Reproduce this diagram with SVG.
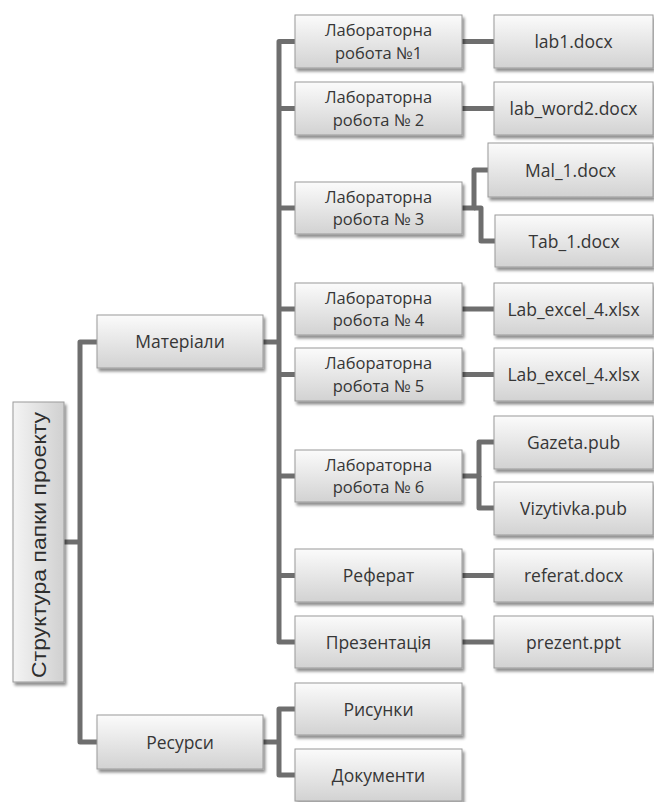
<svg xmlns="http://www.w3.org/2000/svg" width="654" height="802" viewBox="0 0 654 802">
<defs>
<linearGradient id="g" x1="0" y1="0" x2="0" y2="1">
<stop offset="0" stop-color="#fbfbfb"/>
<stop offset="1" stop-color="#d2d2d2"/>
</linearGradient>
<linearGradient id="gr" x1="0" y1="0" x2="1" y2="0">
<stop offset="0" stop-color="#f4f4f4"/>
<stop offset="1" stop-color="#d0d0d0"/>
</linearGradient>
<filter id="sh" x="-10%" y="-10%" width="130%" height="140%">
<feGaussianBlur in="SourceAlpha" stdDeviation="1.5"/>
<feOffset dx="1.5" dy="2.5" result="b"/>
<feComponentTransfer><feFuncA type="linear" slope="0.45"/></feComponentTransfer>
<feMerge><feMergeNode/><feMergeNode in="SourceGraphic"/></feMerge>
</filter>
</defs>
<style>
.box{fill:url(#g);stroke:#9a9a9a;stroke-width:1;filter:url(#sh)}
.root{fill:url(#gr);stroke:#9a9a9a;stroke-width:1;filter:url(#sh)}
.t{font-family:"Open Sans","Noto Sans",sans-serif;font-size:17.5px;fill:#363636;text-anchor:middle}
.t2{font-family:"Open Sans","Noto Sans",sans-serif;font-size:16.5px;fill:#363636;text-anchor:middle}
.rt{font-family:"Liberation Sans",Arial,sans-serif;font-size:21px;fill:#2e2e2e;text-anchor:middle}
.c{fill:none;stroke:#6e6e6e;stroke-width:5;stroke-linejoin:round}
</style>
<rect width="654" height="802" fill="#ffffff"/>
<g id="connectors">
<path class="c" d="M64,542 H80"/>
<path class="c" d="M97,342 H80 V742 H97"/>
<path class="c" d="M263,342 H279"/>
<path class="c" d="M295,41.5 H279 V642 H295"/>
<path class="c" d="M279,108.5 H295 M279,208 H295 M279,309 H295 M279,374.5 H295 M279,476 H295 M279,575.5 H295"/>
<path class="c" d="M263,742 H279"/>
<path class="c" d="M295,709 H279 V775 H295"/>
<path class="c" d="M462,41.5 H494 M462,108.5 H494 M462,309 H494 M462,374.5 H494 M462,575.5 H494 M462,642 H494"/>
<path class="c" d="M462,208 H474 V170 H488"/>
<path class="c" d="M474,208 H481 V241 H495"/>
<path class="c" d="M462,476 H479 V442 H494"/>
<path class="c" d="M479,476 V508 H494"/>
</g>
<g id="root">
<rect class="root" x="13" y="402" width="51" height="280"/>
<text class="rt" transform="translate(46,545) rotate(-90)" textLength="266" lengthAdjust="spacingAndGlyphs">Структура папки проекту</text>
</g>
<g id="materialy">
<rect class="box" x="97" y="315" width="166" height="53"/>
<text class="t" x="180" y="348">Матеріали</text>
</g>
<g id="resursy">
<rect class="box" x="97" y="715" width="166" height="54"/>
<text class="t" x="180" y="748.5">Ресурси</text>
</g>
<g id="lab1">
<rect class="box" x="295" y="15" width="167" height="53"/>
<text class="t2" x="378.5" y="36">Лабораторна</text>
<text class="t2" x="378.5" y="58.5">робота №1</text>
</g>
<g id="lab2">
<rect class="box" x="295" y="82" width="167" height="53"/>
<text class="t2" x="378.5" y="103">Лабораторна</text>
<text class="t2" x="378.5" y="125.5">робота № 2</text>
</g>
<g id="lab3">
<rect class="box" x="295" y="182" width="167" height="52"/>
<text class="t2" x="378.5" y="202.5">Лабораторна</text>
<text class="t2" x="378.5" y="225">робота № 3</text>
</g>
<g id="lab4">
<rect class="box" x="295" y="283" width="167" height="52"/>
<text class="t2" x="378.5" y="303.5">Лабораторна</text>
<text class="t2" x="378.5" y="326">робота № 4</text>
</g>
<g id="lab5">
<rect class="box" x="295" y="348" width="167" height="53"/>
<text class="t2" x="378.5" y="369">Лабораторна</text>
<text class="t2" x="378.5" y="391.5">робота № 5</text>
</g>
<g id="lab6">
<rect class="box" x="295" y="450" width="167" height="52"/>
<text class="t2" x="378.5" y="470.5">Лабораторна</text>
<text class="t2" x="378.5" y="493">робота № 6</text>
</g>
<g id="referat">
<rect class="box" x="295" y="549" width="167" height="53"/>
<text class="t" x="378.5" y="582">Реферат</text>
</g>
<g id="prezentatsiia">
<rect class="box" x="295" y="616" width="167" height="52"/>
<text class="t" x="378.5" y="648.5">Презентація</text>
</g>
<g id="rysunky">
<rect class="box" x="295" y="683" width="167" height="52"/>
<text class="t" x="378.5" y="715.5">Рисунки</text>
</g>
<g id="dokumenty">
<rect class="box" x="295" y="749" width="167" height="52"/>
<text class="t" x="378.5" y="781.5">Документи</text>
</g>
<g id="lab1docx">
<rect class="box" x="494" y="15" width="159" height="53"/>
<text class="t" x="573.5" y="48">lab1.docx</text>
</g>
<g id="labword2">
<rect class="box" x="494" y="82" width="159" height="53"/>
<text class="t" x="573.5" y="115">lab_word2.docx</text>
</g>
<g id="mal1">
<rect class="box" x="488" y="143" width="165" height="54"/>
<text class="t" x="570.5" y="176.5">Mal_1.docx</text>
</g>
<g id="tab1">
<rect class="box" x="495" y="215" width="158" height="52"/>
<text class="t" x="574" y="247.5">Tab_1.docx</text>
</g>
<g id="labexcel4a">
<rect class="box" x="494" y="283" width="159" height="52"/>
<text class="t" x="573.5" y="315.5">Lab_excel_4.xlsx</text>
</g>
<g id="labexcel4b">
<rect class="box" x="494" y="348" width="159" height="53"/>
<text class="t" x="573.5" y="381">Lab_excel_4.xlsx</text>
</g>
<g id="gazeta">
<rect class="box" x="494" y="416" width="159" height="53"/>
<text class="t" x="573.5" y="449">Gazeta.pub</text>
</g>
<g id="vizytivka">
<rect class="box" x="494" y="482" width="159" height="53"/>
<text class="t" x="573.5" y="515">Vizytivka.pub</text>
</g>
<g id="referatdocx">
<rect class="box" x="494" y="549" width="159" height="53"/>
<text class="t" x="573.5" y="582">referat.docx</text>
</g>
<g id="prezentppt">
<rect class="box" x="494" y="616" width="159" height="52"/>
<text class="t" x="573.5" y="648.5">prezent.ppt</text>
</g>
</svg>
